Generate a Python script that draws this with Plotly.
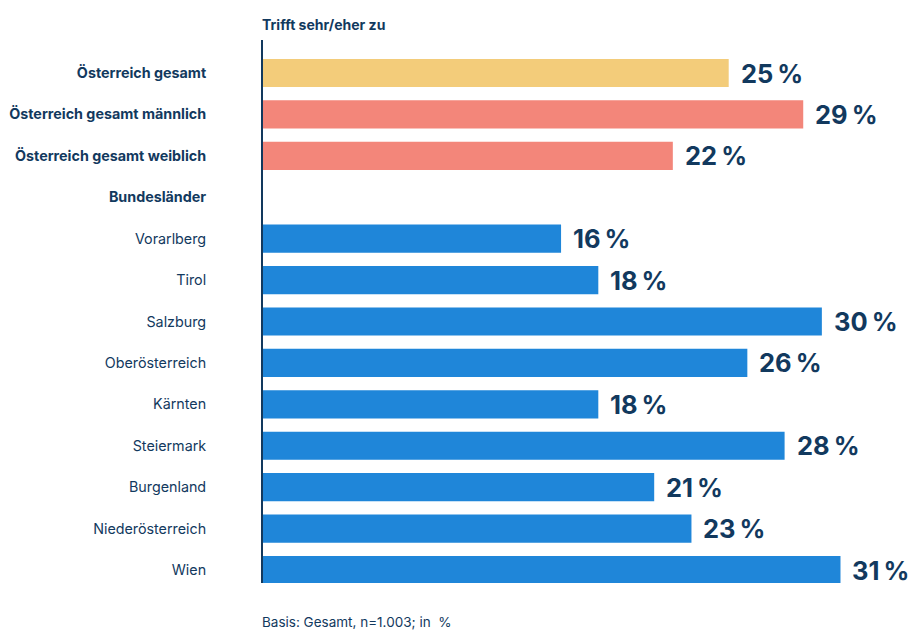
import plotly.graph_objects as go

categories = ["Österreich gesamt", "Österreich gesamt männlich", "Österreich gesamt weiblich",
              "Bundesländer", "Vorarlberg", "Tirol", "Salzburg", "Oberösterreich", "Kärnten",
              "Steiermark", "Burgenland", "Niederösterreich", "Wien"]
values = [25, 29, 22, None, 16, 18, 30, 26, 18, 28, 21, 23, 31]
bold_rows = [True, True, True, True] + [False] * 9
colors = ["#F3CC7A", "#F3867A", "#F3867A", "#FFFFFF"] + ["#1F86D9"] * 9

NAVY = "#12395E"
FONT = "Inter, Roboto, Liberation Sans, sans-serif"

idx = list(range(len(categories)))
ticktext = [f"<b>{c}</b>" if b else c for c, b in zip(categories, bold_rows)]

fig = go.Figure()
fig.add_trace(go.Bar(
    x=[v if v is not None else 0 for v in values], y=idx, orientation="h",
    marker=dict(color=colors, line=dict(width=0)), width=0.68,
    hoverinfo="skip", showlegend=False,
))

for i, v in enumerate(values):
    if v is None:
        continue
    fig.add_annotation(x=v, y=i, xref="x", yref="y", text=f"<b>{v}\u2009%</b>",
                       showarrow=False, xanchor="left", yanchor="middle", xshift=10,
                       font=dict(size=25.5, color=NAVY, family=FONT))

fig.add_annotation(x=0, y=1, xref="paper", yref="paper", yshift=16, xshift=-3,
                   text="<b>Trifft sehr/eher zu</b>", showarrow=False,
                   xanchor="left", yanchor="middle", font=dict(size=14, color=NAVY, family=FONT))
fig.add_annotation(x=0, y=0, xref="paper", yref="paper", yshift=-39, xshift=-3,
                   text="Basis: Gesamt, n=1.003; in  %", showarrow=False,
                   xanchor="left", yanchor="middle", font=dict(size=13.5, color=NAVY, family=FONT))

fig.update_layout(
    width=915, height=630,
    margin=dict(l=263, r=0, t=40, b=47),
    paper_bgcolor="white", plot_bgcolor="white",
    font=dict(family=FONT, color=NAVY, size=13),
    xaxis=dict(range=[0, 35], visible=False, fixedrange=True),
    yaxis=dict(range=[12.314, -0.797], tickvals=idx, ticktext=ticktext,
               showline=True, linecolor=NAVY, linewidth=2, showgrid=False,
               zeroline=False, ticks="", ticklabelstandoff=52,
               tickfont=dict(size=14.3, color=NAVY, family=FONT), fixedrange=True),
)

fig.write_html("out.html")
